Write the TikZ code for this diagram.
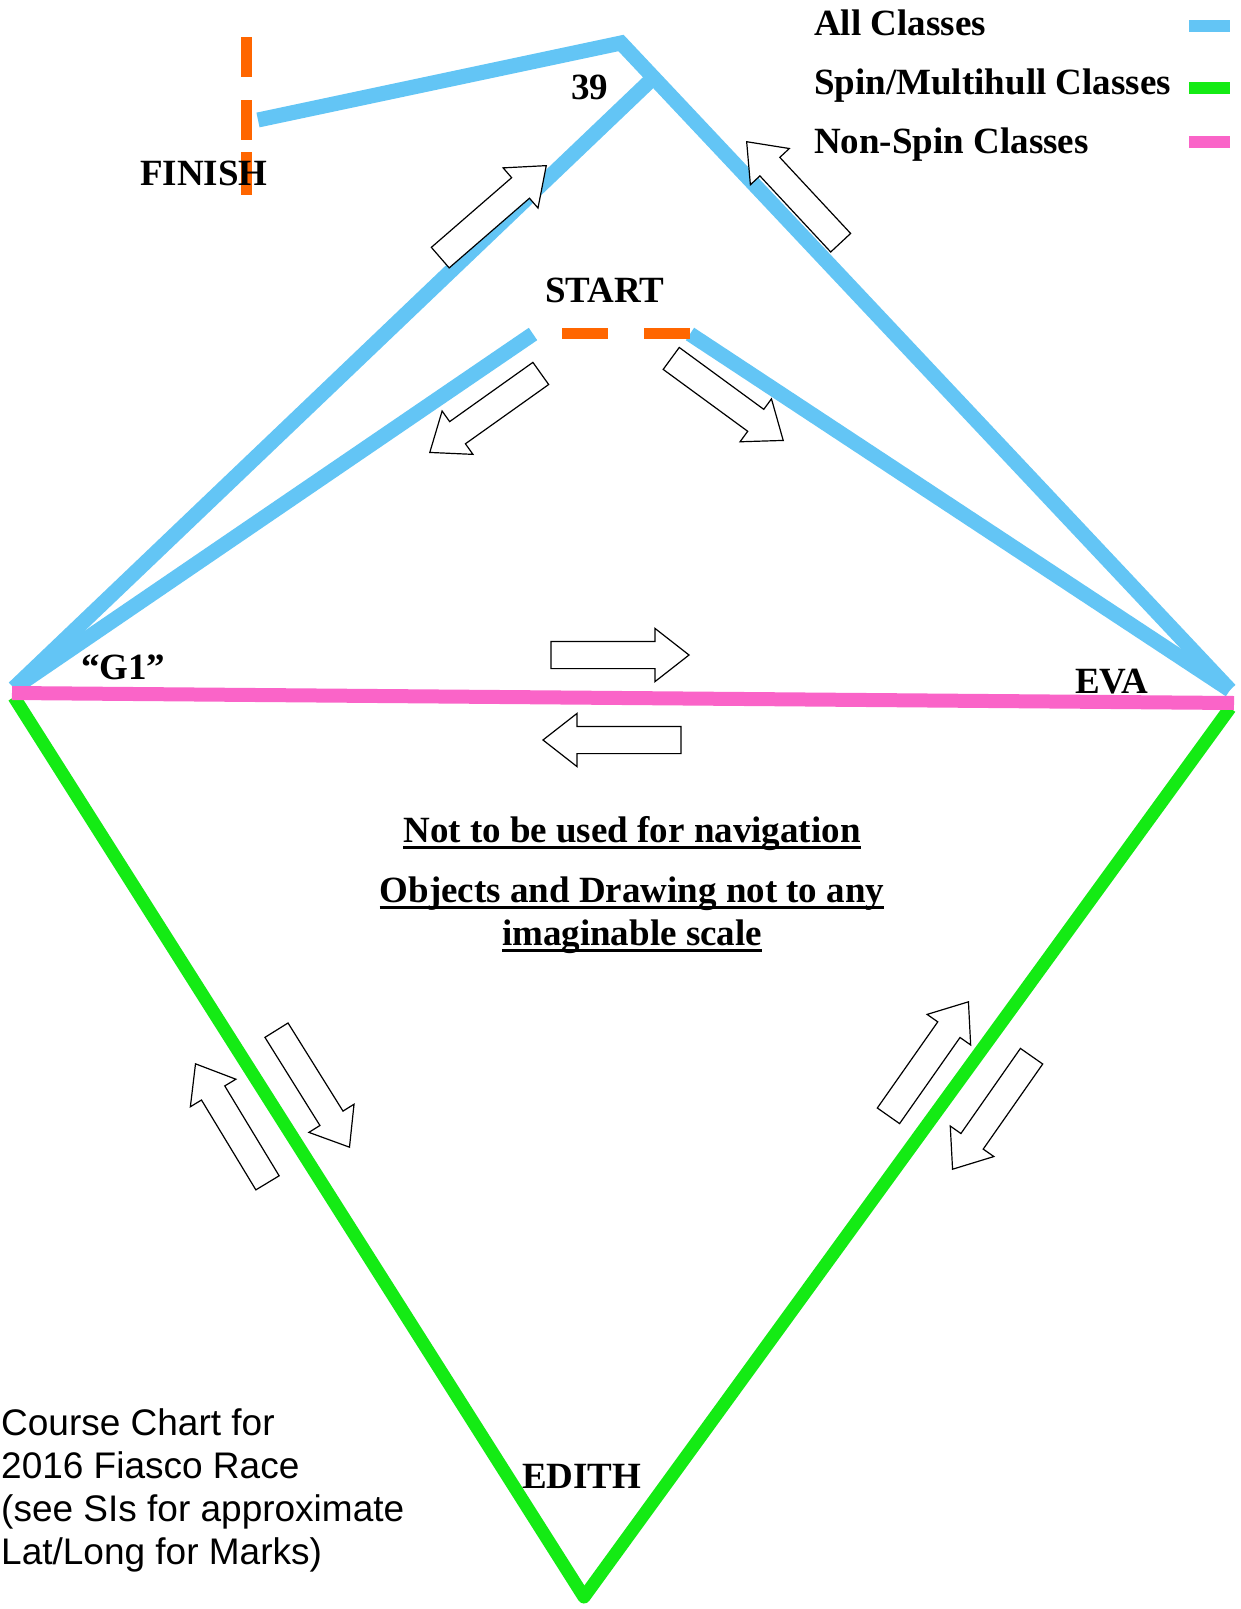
\documentclass[tikz,border=0pt]{standalone}
\usepackage{fontspec}
\setmainfont{Liberation Serif}
\newfontfamily\arialfont{Liberation Sans}
\usetikzlibrary{shapes.arrows,calc}
\definecolor{allblue}{RGB}{99,197,245}
\definecolor{spingreen}{RGB}{20,235,20}
\definecolor{nonpink}{RGB}{250,100,200}
\definecolor{markorange}{RGB}{255,102,0}
\newcommand\ulbox[1]{\setbox0=\hbox{#1}\rlap{\vrule height -0.12em depth 0.2em width \wd0}\box0}
\newcommand\hollowflow[3]{\path let \p1=($(#3)-(#2)$), \n1={atan2(\y1,\x1)}, \n2={veclen(\x1,\y1)} in node[hollowarrow, rotate=\n1, minimum height=\n2, anchor=tip] (#1) at (#3) {};}
\begin{document}
\begin{tikzpicture}[x=1pt,y=-1pt,
  allleg/.style={allblue,line width=15pt},
  spinleg/.style={spingreen,line width=13pt},
  nonleg/.style={nonpink,line width=14pt},
  markline/.style={markorange,line width=11pt},
  swatch/.style={line width=12pt},
  lbl/.style={font=\fontsize{37}{43}\selectfont\bfseries, inner sep=0, anchor=base west},
  note/.style={font=\fontsize{37}{43}\selectfont\arialfont, inner sep=0, anchor=base west},
  hollowarrow/.style={single arrow, draw=black, fill=white, line width=1.2pt, inner xsep=0pt, inner ysep=13pt, single arrow head extend=13pt, single arrow tip angle=76},
]
\clip (0,0) rectangle (1241,1609);
\fill[white] (0,0) rectangle (1241,1609);

% marks
\coordinate (G1b) at (14,688);
\coordinate (G1p) at (12,693);
\coordinate (G1g) at (14,697);
\coordinate (EVAb) at (1230,690);
\coordinate (EVAp) at (1234,703);
\coordinate (EVAg) at (1230,708);
\coordinate (EDITH) at (584,1597);
\coordinate (PEAK) at (621,43);
\coordinate (M39) at (651,80);
\coordinate (FINe) at (258,120);
\coordinate (STl) at (533,334);
\coordinate (STr) at (690,334);
\coordinate (SD1a) at (562,333);
\coordinate (SD1b) at (608,333);
\coordinate (SD2a) at (644,333);
\coordinate (SD2b) at (690,333);
\coordinate (FD1a) at (246,37);
\coordinate (FD1b) at (246,77);
\coordinate (FD2a) at (246,100);
\coordinate (FD2b) at (246,140);
\coordinate (FD3a) at (246,152);
\coordinate (FD3b) at (246,195);

% course legs
\draw[allleg] (G1b) -- (M39);
\draw[allleg, line join=miter] (FINe) -- (PEAK) -- (EVAb);
\draw[allleg] (G1b) -- (STl);
\draw[allleg] (STr) -- (EVAb);
\draw[spinleg, line join=round] (G1g) -- (EDITH) -- (EVAg);
\draw[nonleg] (G1p) -- (EVAp);

% start and finish lines
\draw[markline] (SD1a) -- (SD1b);
\draw[markline] (SD2a) -- (SD2b);
\draw[markline] (FD1a) -- (FD1b);
\draw[markline] (FD2a) -- (FD2b);
\draw[markline] (FD3a) -- (FD3b);

% direction arrows
\coordinate (a1t) at (441,257);  \coordinate (a1h) at (547,165);
\coordinate (a2t) at (840,242);  \coordinate (a2h) at (746,141);
\coordinate (a3t) at (540,374);  \coordinate (a3h) at (429,453);
\coordinate (a4t) at (672,359);  \coordinate (a4h) at (784,441);
\coordinate (a5t) at (552,655);  \coordinate (a5h) at (690,655);
\coordinate (a6t) at (680,740);  \coordinate (a6h) at (542,740);
\coordinate (a7t) at (267,1182); \coordinate (a7h) at (195,1063);
\coordinate (a8t) at (277,1031); \coordinate (a8h) at (350,1148);
\coordinate (a9t) at (889,1115); \coordinate (a9h) at (969,1001);
\coordinate (a10t) at (1031,1057); \coordinate (a10h) at (952,1170);
\hollowflow{a1}{a1t}{a1h}
\hollowflow{a2}{a2t}{a2h}
\hollowflow{a3}{a3t}{a3h}
\hollowflow{a4}{a4t}{a4h}
\hollowflow{a5}{a5t}{a5h}
\hollowflow{a6}{a6t}{a6h}
\hollowflow{a7}{a7t}{a7h}
\hollowflow{a8}{a8t}{a8h}
\hollowflow{a9}{a9t}{a9h}
\hollowflow{a10}{a10t}{a10h}

% labels
\node[lbl] (finishlbl) at (140,185) {FINISH};
\node[lbl] (lbl39) at (571,99) {39};
\node[lbl] (startlbl) at (545,302) {START};
\node[lbl] (g1lbl) at (81,679) {“G1”};
\node[lbl] (evalbl) at (1075,693) {EVA};
\node[lbl] (edithlbl) at (522,1488) {EDITH};

% legend
\node[lbl] (lgAll) at (814,35) {All Classes};
\node[lbl] (lgSpin) at (814,94) {Spin/Multihull Classes};
\node[lbl] (lgNon) at (814,153) {Non-Spin Classes};
\coordinate (swA1) at (1189,26); \coordinate (swA2) at (1230,26);
\coordinate (swB1) at (1189,88); \coordinate (swB2) at (1230,88);
\coordinate (swC1) at (1189,142); \coordinate (swC2) at (1230,142);
\draw[swatch, allblue] (swA1) -- (swA2);
\draw[swatch, spingreen] (swB1) -- (swB2);
\draw[swatch, nonpink] (swC1) -- (swC2);

% disclaimer
\node[lbl, anchor=base] (disc1) at (632,842) {\ulbox{Not to be used for navigation}};
\node[lbl, anchor=base] (disc2) at (632,902) {\ulbox{Objects and Drawing not to any}};
\node[lbl, anchor=base] (disc3) at (632,945) {\ulbox{imaginable scale}};

% chart note
\node[note] (note1) at (1,1435) {Course Chart for};
\node[note] (note2) at (1,1478) {2016 Fiasco Race};
\node[note] (note3) at (1,1521) {(see SIs for approximate};
\node[note] (note4) at (1,1564) {Lat/Long for Marks)};
\end{tikzpicture}
\end{document}
